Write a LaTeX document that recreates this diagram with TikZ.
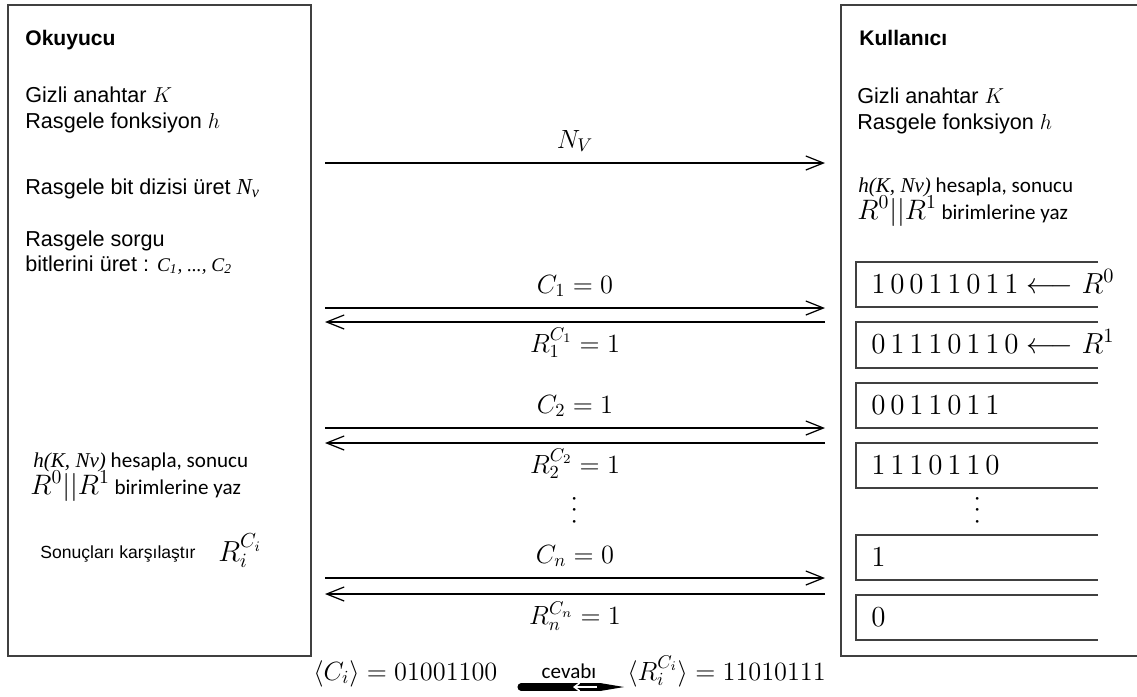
\documentclass[tikz,border=0pt]{standalone}
\usepackage{fix-cm}
\usepackage[no-math]{fontspec}
\setmainfont{Liberation Sans}
\newfontfamily\calibri{Carlito}
\newfontfamily\timesf{Liberation Serif}
\usetikzlibrary{arrows.meta}

\begin{document}
\begin{tikzpicture}[x=0.02cm,y=-0.02cm,>={Straight Barb[length=10pt,width=8pt]}]
  \tikzstyle{party}=[draw=black!75, line width=1.1pt]
  \tikzstyle{cell}=[draw=black!75, line width=1pt]
  \tikzstyle{title}=[anchor=base west, inner sep=0pt, font=\fontsize{12}{14}\selectfont\bfseries]
  \tikzstyle{txt}=[anchor=base west, inner sep=0pt, font=\fontsize{12.3}{14}\selectfont]
  \tikzstyle{note}=[anchor=base west, inner sep=0pt, font=\fontsize{12}{14}\selectfont\calibri]
  \tikzstyle{msg}=[->, line width=0.7pt]
  \tikzstyle{lbl}=[anchor=base, inner sep=0pt, font=\fontsize{15}{18}\selectfont]
  \tikzstyle{reg}=[anchor=base west, inner sep=0pt, font=\fontsize{16.5}{19}\selectfont]

  \useasboundingbox (0,0) rectangle (1137,697);

  % Okuyucu (reader) side
  \node[party, minimum width=6.06cm, minimum height=13.02cm, inner sep=0pt] (okuyucu) at (159.5,330.5) {};
  \node[title] (okuyucuT) at (25,45) {Okuyucu};
  \node[txt] (gizliL) at (25,102) {Gizli anahtar $K$};
  \node[txt] (fonkL) at (25,128) {Rasgele fonksiyon $h$};
  \node[txt] (nvL) at (25,194) {Rasgele bit dizisi üret {\timesf\itshape\fontsize{13}{14}\selectfont N\textsubscript{v}}};
  \node[txt] (sorguA) at (25,246) {Rasgele sorgu};
  \node[txt] (sorguB) at (25,271) {bitlerini üret : {\timesf\itshape\fontsize{11}{12}\selectfont C\textsubscript{1}, ..., C\textsubscript{2}}};
  \node[note] (hesL) at (33,467) {{\timesf\itshape h(K, Nv)} hesapla, sonucu};
  \node[note] (birL) at (30,494) {{\fontsize{16}{19}\selectfont$R^0||R^1$} birimlerine yaz};
  \node[txt, font=\fontsize{10}{12}\selectfont] (karsi) at (40,558) {Sonuçları karşılaştır};
  \node[reg, font=\fontsize{16.5}{19}\selectfont] (rci) at (218,561) {$R_i^{C_i}$};

  % Kullanici (user) side
  \draw[party] (1137,5) -| (841,656) -- (1137,656);
  \node[title] (kullaniciT) at (859,45) {Kullanıcı};
  \node[txt] (gizliR) at (857,103) {Gizli anahtar $K$};
  \node[txt] (fonkR) at (857,129) {Rasgele fonksiyon $h$};
  \node[note] (hesR) at (858,192) {{\timesf\itshape h(K, Nv)} hesapla, sonucu};
  \node[note] (birR) at (857,219) {{\fontsize{16}{19}\selectfont$R^0||R^1$} birimlerine yaz};

  % registers
  \foreach \t/\b in {262/307, 322/368, 383/428, 443/488, 535/580, 595/640}
    \draw[cell] (1098,\t) -| (856,\b) -- (1098,\b);
  \node[reg] (regA) at (871,293) {$1\,0\,0\,1\,1\,0\,1\,1 \longleftarrow R^0$};
  \node[reg] (regB) at (871,353) {$0\,1\,1\,1\,0\,1\,1\,0 \longleftarrow R^1$};
  \node[reg] (regC) at (871,414) {$0\,0\,1\,1\,0\,1\,1$};
  \node[reg] (regD) at (871,474) {$1\,1\,1\,0\,1\,1\,0$};
  \node[reg] (regE) at (871,566) {$1$};
  \node[reg] (regF) at (871,626) {$0$};
  \node[lbl, rotate=90, anchor=center] (dotsR) at (978,510) {$\cdots$};

  % messages
  \foreach \n/\y in {nv/163, ca/308, ra/322, cb/428, rb/443, cn/578, rn/594} {
    \coordinate (\n-l) at (325,\y);
    \coordinate (\n-r) at (825,\y);
  }
  \draw[msg] (nv-l) -- node[lbl, yshift=0.3cm] {$N_V$} (nv-r);
  \draw[msg] (ca-l) -- node[lbl, yshift=0.3cm] {$C_1 = 0$} (ca-r);
  \draw[msg] (ra-r) -- node[lbl, yshift=-0.6cm] {$R_1^{C_1} = 1$} (ra-l);
  \draw[msg] (cb-l) -- node[lbl, yshift=0.3cm] {$C_2 = 1$} (cb-r);
  \draw[msg] (rb-r) -- node[lbl, yshift=-0.6cm] {$R_2^{C_2} = 1$} (rb-l);
  \node[lbl, rotate=90, anchor=center] (dotsM) at (575,510) {$\cdots$};
  \draw[msg] (cn-l) -- node[lbl, yshift=0.3cm] {$C_n = 0$} (cn-r);
  \draw[msg] (rn-r) -- node[lbl, yshift=-0.6cm] {$R_n^{C_n} = 1$} (rn-l);

  % result line
  \node[lbl, anchor=base west] (cseq) at (313,680) {$\langle C_i\rangle = 01001100$};
  \node[lbl, anchor=base west] (rseq) at (627,680) {$\langle R_i^{C_i}\rangle = 11010111$};
  \coordinate (cv-a) at (521,687);
  \coordinate (cv-b) at (600,687);
  \draw[line width=4pt, line cap=round] (cv-a) -- (cv-b);
  \fill (600,683) -- (624,687) -- (600,691) -- cycle;
  \draw[white, line width=0.9pt, -{Straight Barb[length=3pt,width=4.5pt]}] (597,687) -- (573,687);
  \node[note, anchor=base] (cevabi) at (569,678) {cevabı};
\end{tikzpicture}
\end{document}
